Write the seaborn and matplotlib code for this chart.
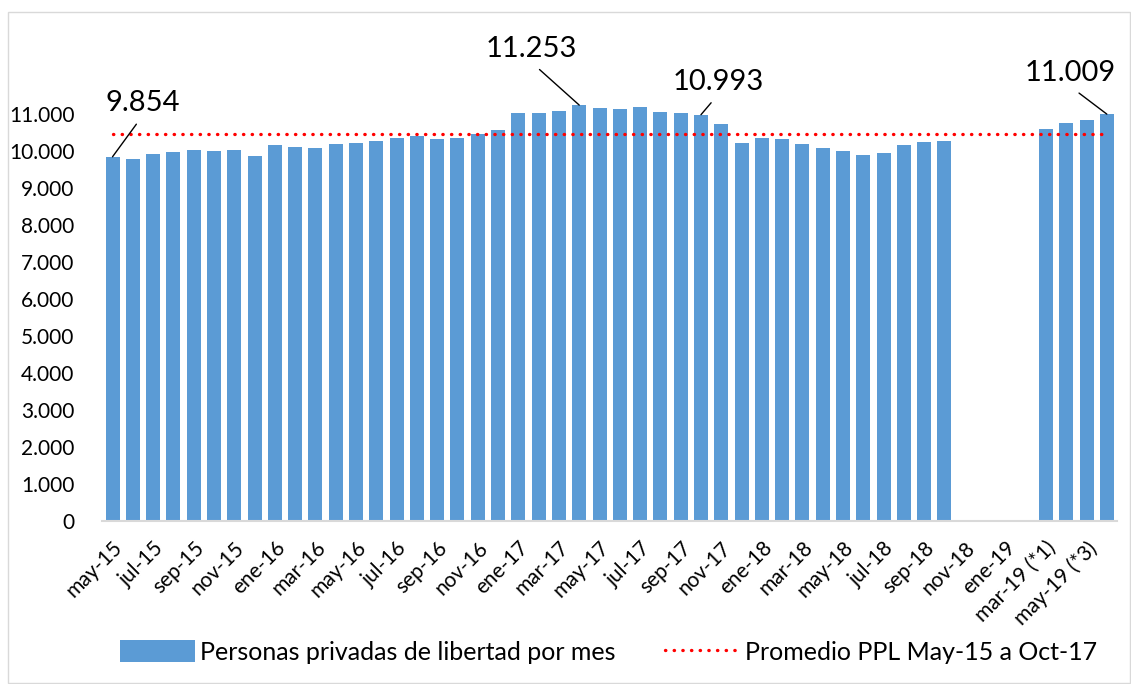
import numpy as np
import pandas as pd
import matplotlib
matplotlib.use('Agg')
import matplotlib.pyplot as plt
from matplotlib.patches import Patch, Rectangle
from matplotlib.lines import Line2D
from matplotlib.ticker import FuncFormatter
import seaborn as sns

# datos
meses = ['may-15', 'jun-15', 'jul-15', 'ago-15', 'sep-15', 'oct-15', 'nov-15', 'dic-15',
         'ene-16', 'feb-16', 'mar-16', 'abr-16', 'may-16', 'jun-16', 'jul-16', 'ago-16',
         'sep-16', 'oct-16', 'nov-16', 'dic-16', 'ene-17', 'feb-17', 'mar-17', 'abr-17',
         'may-17', 'jun-17', 'jul-17', 'ago-17', 'sep-17', 'oct-17', 'nov-17', 'dic-17',
         'ene-18', 'feb-18', 'mar-18', 'abr-18', 'may-18', 'jun-18', 'jul-18', 'ago-18',
         'sep-18', 'oct-18', 'nov-18', 'dic-18', 'ene-19', 'feb-19',
         'mar-19 (*1)', 'abr-19 (*2)', 'may-19 (*3)', 'jun-19 (*4)']
ppl = [9854, 9808, 9927, 9981, 10035, 10008, 10035, 9881,
       10171, 10125, 10098, 10198, 10233, 10279, 10376, 10422,
       10349, 10376, 10468, 10576, 11045, 11045, 11099, 11253,
       11161, 11134, 11207, 11072, 11026, 10993, 10728, 10233,
       10376, 10333, 10198, 10098, 10008, 9900, 9954, 10171,
       10260, 10279, np.nan, np.nan, np.nan, np.nan,
       10603, 10774, 10847, 11009]
promedio = 10480
etiquetas = {'may-15': '9.854', 'abr-17': '11.253', 'oct-17': '10.993', 'jun-19 (*4)': '11.009'}

azul = '#5B9BD5'
df = pd.DataFrame({'mes': meses, 'ppl': ppl})

fig = plt.figure(figsize=(11.31, 6.84), dpi=100)
ax = fig.add_axes([0.0905, 0.2383, 0.8971, 0.6187])

sns.barplot(data=df, x='mes', y='ppl', order=meses, color=azul, saturation=1,
            width=0.69, ax=ax, errorbar=None)
sns.lineplot(x=np.arange(len(meses)), y=[promedio] * len(meses), ax=ax, color='#FF0000',
             lw=2.4, linestyle=(0, (0.1, 2.5)), dash_capstyle='round')

ax.set_xlim(-0.5, len(meses) - 0.5)
ax.set_ylim(0, 11450)
ax.set_yticks(range(0, 12000, 1000))
ax.yaxis.set_major_formatter(FuncFormatter(lambda v, p: f'{int(v):,}'.replace(',', '.')))
ax.set_xticks(range(0, len(meses), 2))
ax.set_xticklabels(meses[::2], rotation=45, ha='right', rotation_mode='anchor')
ax.tick_params(axis='both', length=0, labelsize=15, colors='black')
ax.tick_params(axis='x', pad=12)
ax.tick_params(axis='y', pad=20)
for lbl in ax.get_xticklabels() + ax.get_yticklabels():
    lbl.set_family(['Lato', 'DejaVu Sans'])
ax.set_xlabel('')
ax.set_ylabel('')
for s in ['left', 'right', 'top']:
    ax.spines[s].set_visible(False)
ax.spines['bottom'].set_color('#d9d9d9')
ax.spines['bottom'].set_linewidth(1.5)
ax.set_facecolor('white')

# etiquetas con linea guia
offsets = {'may-15': (30, 54), 'abr-17': (-48, 56), 'oct-17': (17, 33), 'jun-19 (*4)': (-37, 41)}
for mes, txt in etiquetas.items():
    i = meses.index(mes)
    ax.annotate(txt, xy=(i, ppl[i]), xytext=offsets[mes], textcoords='offset pixels',
                ha='center', va='center', fontsize=21, family=['Lato', 'DejaVu Sans'],
                annotation_clip=False,
                arrowprops=dict(arrowstyle='-', color='black', lw=1, relpos=(0.5, 0),
                                shrinkA=5, shrinkB=0))

handles = [Patch(facecolor=azul, edgecolor='none'),
           Line2D([], [], color='#FF0000', lw=2.4, linestyle=(0, (0.1, 2.5)), dash_capstyle='round')]
fig.legend(handles, ['Personas privadas de libertad por mes', 'Promedio PPL May-15 a Oct-17'],
           loc='center', bbox_to_anchor=(0.538, 0.047), ncol=2, frameon=False,
           prop={'family': ['Lato', 'DejaVu Sans'], 'size': 18},
           handlelength=3.0, handleheight=1.0, handletextpad=0.2, columnspacing=2.0)

fig.patches.append(Rectangle((8 / 1131, 0.002), 1 - 9 / 1131, 1 - 12 / 684 - 0.002,
                             transform=fig.transFigure, fill=False, edgecolor='#d9d9d9', lw=1))

fig.savefig('out.png', dpi=100, facecolor='white')
